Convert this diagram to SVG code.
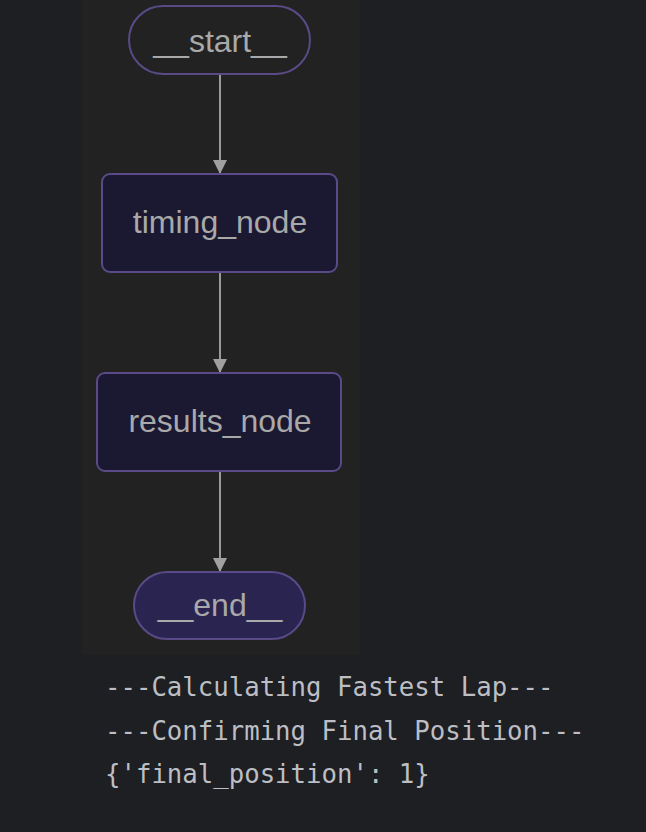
<svg xmlns="http://www.w3.org/2000/svg" width="646" height="832" viewBox="0 0 646 832">
<style>
.node { fill: #1b1831; stroke: #5a4a87; stroke-width: 2; }
.term { fill: #222222; stroke: #5a4a87; stroke-width: 2; }
.endn { fill: #2a2450; stroke: #5a4a87; stroke-width: 2; }
.lbl { font-family: "Liberation Sans", Arial, sans-serif; font-size: 32px; fill: #a9a9a9; text-anchor: middle; }
.edge { stroke: #9a9a9a; stroke-width: 2; fill: none; }
.out { font-family: "DejaVu Sans Mono", "Liberation Mono", monospace; font-size: 25.7px; fill: #bcbec4; }
</style>
<defs>
<marker id="arr" markerWidth="14" markerHeight="14" refX="14" refY="7" orient="auto" markerUnits="userSpaceOnUse">
<path d="M0,0 L14,7 L0,14 Z" fill="#a0a0a0"/>
</marker>
</defs>
<rect x="0" y="0" width="646" height="832" fill="#1e1f22"/>
<rect x="82" y="0" width="278" height="655" fill="#222222"/>
<g id="connectors">
<path class="edge" d="M220,75 L220,174" marker-end="url(#arr)"/>
<path class="edge" d="M220,273 L220,373" marker-end="url(#arr)"/>
<path class="edge" d="M220,472 L220,572" marker-end="url(#arr)"/>
</g>
<g id="start">
<rect class="term" x="129" y="6" width="181" height="68" rx="34"/>
<text class="lbl" x="220" y="52">__start__</text>
</g>
<g id="timing_node">
<rect class="node" x="102" y="174" width="235" height="98" rx="8"/>
<text class="lbl" x="220" y="233">timing_node</text>
</g>
<g id="results_node">
<rect class="node" x="97" y="373" width="244" height="98" rx="8"/>
<text class="lbl" x="220" y="432">results_node</text>
</g>
<g id="end">
<rect class="endn" x="134" y="572" width="171" height="67" rx="33.5"/>
<text class="lbl" x="220" y="616">__end__</text>
</g>
<g id="output">
<text class="out" x="105" y="696">---Calculating Fastest Lap---</text>
<text class="out" x="105" y="740">---Confirming Final Position---</text>
<text class="out" x="105" y="783">{'final_position': 1}</text>
</g>
</svg>
